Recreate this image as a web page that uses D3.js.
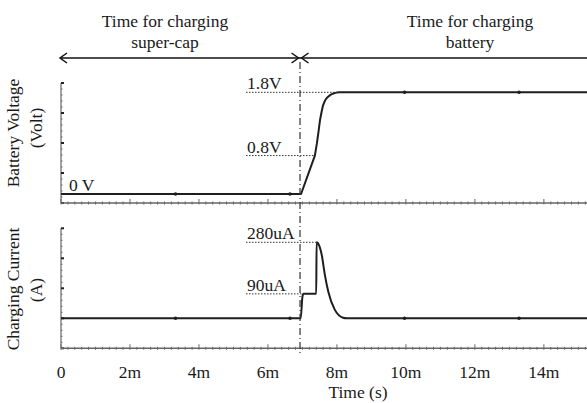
<!DOCTYPE html>
<html>
<head>
<meta charset="utf-8">
<script src="https://cdn.jsdelivr.net/npm/d3@7"></script>
<style>
  html, body { margin: 0; padding: 0; background: #fff; }
  svg text { font-family: 'Liberation Serif', 'Times New Roman', serif; fill: #1a1a1a; }
</style>
</head>
<body>
<div id="chart"></div>
<script>
// time in ms (shown as "m" on the axis)
const voltTime = [0, 6.96, 7.36, 7.42, 7.47, 7.51, 7.56, 7.60, 7.66, 7.72, 7.80, 7.88, 7.95, 8.05, 15.25]
const voltValue = [0, 0, 0.68, 0.9, 1.12, 1.31, 1.47, 1.575, 1.66, 1.71, 1.75, 1.775, 1.79, 1.8, 1.8]

const currTime = [0, 6.95, 7.0, 7.03, 7.40, 7.41, 7.44, 7.56, 7.65, 7.75, 7.94, 8.18, 8.28, 15.25]
const currValue = [0, 0, 80, 90, 90, 280, 278, 233, 160, 98, 31, 2, 0, 0]

const markerTimes = [3.32, 6.64, 9.96, 13.28]
const xTicks = [0, 2, 4, 6, 8, 10, 12, 14]
const xTickLabels = ['0', '2m', '4m', '6m', '8m', '10m', '12m', '14m']

const voltMarks = [
  { label: '1.8V', value: 1.8, t: 8.05 },
  { label: '0.8V', value: 0.68, t: 7.36 }
]
const currMarks = [
  { label: '280uA', value: 280, t: 7.41 },
  { label: '90uA', value: 90, t: 7.03 }
]
const switchTime = 6.93

const WIDTH = 587
const HEIGHT = 403
const FONT = 17.5
const LINE_COLOR = '#1e1e1e'
const AXIS_COLOR = '#666'

const svg = d3.select('#chart').append('svg')
  .attr('width', WIDTH)
  .attr('height', HEIGHT)

const xScale = d3.scaleLinear().domain([0, 15.25]).range([61, 587])

const yVolt = d3.scaleLinear().domain([-0.16, 1.965]).range([203, 83])
const yCurr = d3.scaleLinear().domain([-110.5, 331.5]).range([348.3, 228.3])

// draw one panel: left axis, bottom axis, trace, markers
function drawPanel (yScale, times, values, curve) {
  const g = svg.append('g')
  const [yBot, yTop] = yScale.range()
  const dom = yScale.domain()

  // left axis
  g.append('line')
    .attr('x1', xScale(0)).attr('x2', xScale(0))
    .attr('y1', yTop).attr('y2', yBot)
    .attr('stroke', AXIS_COLOR).attr('stroke-width', 1.2)
  const yMinor = d3.range(21).map(i => dom[0] + i * (dom[1] - dom[0]) / 20)
  g.selectAll('.ymin').data(yMinor).enter().append('line')
    .attr('x1', xScale(0)).attr('x2', (d, i) => xScale(0) + (i % 5 === 0 ? 3 : 1.5))
    .attr('y1', d => yScale(d)).attr('y2', d => yScale(d))
    .attr('stroke', (d, i) => i % 5 === 0 ? '#222' : AXIS_COLOR)
    .attr('stroke-width', (d, i) => i % 5 === 0 ? 2 : 1)

  // bottom axis
  g.append('line')
    .attr('x1', xScale(0)).attr('x2', WIDTH)
    .attr('y1', yBot).attr('y2', yBot)
    .attr('stroke', AXIS_COLOR).attr('stroke-width', 1.5)
  const xMinor = d3.range(0, 15.3, 0.2)
  g.selectAll('.xmin').data(xMinor).enter().append('line')
    .attr('x1', d => xScale(d)).attr('x2', d => xScale(d))
    .attr('y1', yBot + 1.5)
    .attr('y2', (d, i) => yBot - (i % 10 === 0 ? 4 : 1.5))
    .attr('stroke', AXIS_COLOR).attr('stroke-width', 1)

  // trace
  const pts = times.map((t, i) => [t, values[i]])
  g.append('path')
    .datum(pts)
    .attr('fill', 'none')
    .attr('stroke', LINE_COLOR)
    .attr('stroke-width', 2)
    .attr('stroke-linejoin', 'round')
    .attr('d', d3.line()
      .x(d => xScale(d[0]))
      .y(d => yScale(d[1]))
      .curve(curve))

  // small markers along the trace
  g.selectAll('.mk').data(markerTimes).enter().append('circle')
    .attr('cx', d => xScale(d))
    .attr('cy', d => yScale(values[d3.bisectRight(times, d) - 1]))
    .attr('r', 1.8)
    .attr('fill', LINE_COLOR)
}

drawPanel(yVolt, voltTime, voltValue, d3.curveLinear)
drawPanel(yCurr, currTime, currValue, d3.curveMonotoneX)

// dotted level marks with labels
const LABEL_X = 246
function drawMarks (yScale, marks) {
  const g = svg.append('g')
  g.selectAll('line').data(marks).enter().append('line')
    .attr('x1', LABEL_X).attr('x2', d => xScale(d.t))
    .attr('y1', d => yScale(d.value)).attr('y2', d => yScale(d.value))
    .attr('stroke', '#333').attr('stroke-width', 1)
    .attr('stroke-dasharray', '1.5,1.5')
  g.selectAll('text').data(marks).enter().append('text')
    .attr('x', LABEL_X + 1)
    .attr('y', d => yScale(d.value) - 3)
    .attr('font-size', FONT)
    .text(d => d.label)
}
drawMarks(yVolt, voltMarks)
drawMarks(yCurr, currMarks)

svg.append('text')
  .attr('x', 69).attr('y', 191)
  .attr('font-size', FONT)
  .text('0 V')

// switch-over dash-dot line
svg.append('line')
  .attr('x1', xScale(switchTime)).attr('x2', xScale(switchTime))
  .attr('y1', 62).attr('y2', 354)
  .attr('stroke', '#333').attr('stroke-width', 1.2)
  .attr('stroke-dasharray', '7,3,1,3')

// arrows on top
const ARROW_Y = 58
const xl = xScale(0) - 1
const xm = xScale(switchTime)
svg.append('line')
  .attr('x1', xl).attr('x2', WIDTH)
  .attr('y1', ARROW_Y).attr('y2', ARROW_Y)
  .attr('stroke', '#111').attr('stroke-width', 1.5)
const heads = [[xl, 1], [xm - 1.5, -1], [xm + 1.5, 1]]
svg.selectAll('.head').data(heads).enter().append('path')
  .attr('d', d => `M${d[0] + d[1] * 7},${ARROW_Y - 5}L${d[0]},${ARROW_Y}L${d[0] + d[1] * 7},${ARROW_Y + 5}`)
  .attr('fill', 'none').attr('stroke', '#111').attr('stroke-width', 1.5)

// phase titles
const titles = [
  { x: 165, lines: ['Time for charging', 'super-cap'] },
  { x: 470, lines: ['Time for charging', 'battery'] }
]
titles.forEach(t => {
  t.lines.forEach((s, i) => {
    svg.append('text')
      .attr('x', t.x).attr('y', 27 + i * 21)
      .attr('text-anchor', 'middle')
      .attr('font-size', FONT)
      .text(s)
  })
})

// x tick labels
svg.selectAll('.xt').data(xTicks).enter().append('text')
  .attr('x', d => xScale(d))
  .attr('y', 378)
  .attr('text-anchor', 'middle')
  .attr('font-size', FONT)
  .text((d, i) => xTickLabels[i])

svg.append('text')
  .attr('x', 358).attr('y', 398)
  .attr('text-anchor', 'middle')
  .attr('font-size', FONT)
  .text('Time (s)')

// y titles
const yTitles = [
  { x: 19, y: 133, s: 'Battery Voltage' },
  { x: 42, y: 128, s: '(Volt)' },
  { x: 19, y: 289, s: 'Charging Current' },
  { x: 42, y: 290, s: '(A)' }
]
svg.selectAll('.yt').data(yTitles).enter().append('text')
  .attr('transform', d => `translate(${d.x},${d.y}) rotate(-90)`)
  .attr('text-anchor', 'middle')
  .attr('font-size', FONT)
  .text(d => d.s)
</script>
</body>
</html>
